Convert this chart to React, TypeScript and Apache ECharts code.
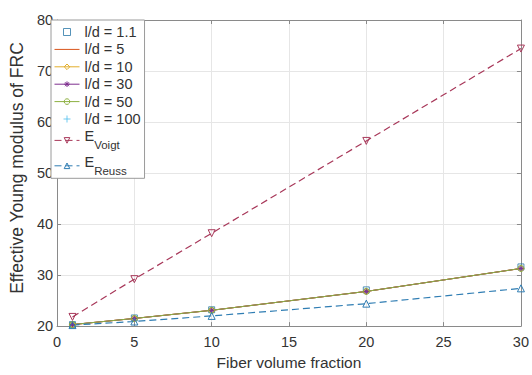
import React, { useEffect, useRef } from "react";
import * as echarts from "echarts";

// Fiber volume fraction (x)
const xValues = [1, 5, 10, 20, 30];
// Effective Young modulus of FRC for each series
const ld1_1 = [20.3, 21.6, 23.2, 27.1, 31.6];
const ld5 = [20.3, 21.5, 23.1, 26.8, 31.3];
const ld10 = [20.3, 21.5, 23.1, 26.8, 31.3];
const ld30 = [20.3, 21.5, 23.1, 26.8, 31.3];
const ld50 = [20.3, 21.5, 23.1, 26.8, 31.3];
const ld100 = [20.3, 21.5, 23.1, 26.9, 31.4];
const eVoigt = [21.8, 29.2, 38.2, 56.3, 74.4];
const eReuss = [20.2, 20.9, 22.0, 24.4, 27.4];

const xMin = 0, xMax = 30, xStep = 5;
const yMin = 20, yMax = 80, yStep = 10;

const FONT = "Liberation Sans, Arial, Helvetica, sans-serif";
const TXT = "#333333";
const AX = "#8a8a8a";

const pts = (ys: number[]) => xValues.map((x, i) => [x, ys[i]]);

export default function App() {
  const ref = useRef<HTMLDivElement>(null);
  useEffect(() => {
    const chart = echarts.init(ref.current!, null, { renderer: "svg" });
    const plusPath = "path://M5,0L5,10M0,5L10,5";
    const starPath = "path://M5,0L5,10M0,5L10,5M1.5,1.5L8.5,8.5M1.5,8.5L8.5,1.5";
    const squarePath = "path://M0,0L10,0L10,10L0,10Z";
    const lineSeries = (name: string, ys: number[], color: string, symbol: string, extra: any = {}) => ({
      name,
      type: "line",
      data: pts(ys),
      symbol,
      symbolSize: 6,
      showSymbol: symbol !== "none",
      lineStyle: { color, width: 1 },
      itemStyle: { color: "rgba(255,255,255,0)", borderColor: color, borderWidth: 1 },
      emphasis: { disabled: true },
      ...extra,
    });
    const option: any = {
      animation: false,
      backgroundColor: "#ffffff",
      textStyle: { fontFamily: FONT },
      grid: { left: 50, right: 10, top: 20, bottom: 40, containLabel: false },
      xAxis: [
        {
          type: "value",
          min: xMin,
          max: xMax,
          interval: xStep,
          name: "Fiber volume fraction",
          nameLocation: "middle",
          nameGap: 17,
          nameTextStyle: { fontSize: 15.5, color: TXT, fontFamily: FONT },
          axisLine: { show: true, lineStyle: { color: AX, width: 1 } },
          axisTick: { show: true, inside: true, length: 4, lineStyle: { color: AX } },
          axisLabel: { fontSize: 14.5, color: TXT, margin: 8, fontFamily: FONT },
          splitLine: { show: true, lineStyle: { color: "#e6e6e6", width: 1 } },
        },
        {
          type: "value",
          position: "top",
          min: xMin,
          max: xMax,
          interval: xStep,
          axisLine: { show: true, onZero: false, lineStyle: { color: AX, width: 1 } },
          axisTick: { show: true, inside: true, length: 4, lineStyle: { color: AX } },
          axisLabel: { show: false },
          splitLine: { show: false },
        },
      ],
      yAxis: [
        {
          type: "value",
          min: yMin,
          max: yMax,
          interval: yStep,
          name: "Effective Young modulus of FRC",
          nameLocation: "middle",
          nameGap: 22,
          nameTextStyle: { fontSize: 17.5, color: TXT, fontFamily: FONT, padding: [0, 0, 0, 10] },
          axisLine: { show: true, lineStyle: { color: AX, width: 1 } },
          axisTick: { show: true, inside: true, length: 4, lineStyle: { color: AX } },
          axisLabel: { fontSize: 14.5, color: TXT, margin: 4, fontFamily: FONT },
          splitLine: { show: true, lineStyle: { color: "#e6e6e6", width: 1 } },
        },
        {
          type: "value",
          position: "right",
          min: yMin,
          max: yMax,
          interval: yStep,
          axisLine: { show: true, onZero: false, lineStyle: { color: AX, width: 1 } },
          axisTick: { show: true, inside: true, length: 4, lineStyle: { color: AX } },
          axisLabel: { show: false },
          splitLine: { show: false },
        },
      ],
      legend: {
        orient: "vertical",
        left: 51,
        top: 20,
        padding: [4.5, 4, 1, 3],
        itemGap: 2.4,
        itemWidth: 25,
        itemHeight: 7,
        borderColor: "#9a9a9a",
        borderWidth: 1,
        backgroundColor: "#ffffff",
        itemStyle: { borderWidth: 1 },
        lineStyle: { width: 1 },
        textStyle: {
          fontSize: 14.5,
          color: TXT,
          fontFamily: FONT,
          lineHeight: 15,
          rich: {
            e: { fontSize: 14.5, color: TXT, fontFamily: FONT, lineHeight: 15, padding: [0, 0, 8, 0] },
            s: { fontSize: 11.5, color: TXT, fontFamily: FONT, lineHeight: 13, padding: [10, 0, 0, 0] },
          },
        },
        formatter: (name: string) => {
          if (name.startsWith("E_")) return "{e|E}{s|" + name.slice(2) + "}";
          return name;
        },
        data: [
          { name: "l/d = 1.1" },
          { name: "l/d = 5", icon: "path://M0,0L100,0L100,4L0,4Z", itemStyle: { color: "#D95319" } },
          { name: "l/d = 10" },
          { name: "l/d = 30" },
          { name: "l/d = 50" },
          { name: "l/d = 100" },
          { name: "E_Voigt" },
          { name: "E_Reuss" },
        ],
      },
      series: [
        {
          name: "l/d = 1.1",
          type: "scatter",
          data: pts(ld1_1),
          symbol: squarePath,
          symbolSize: 6,
          itemStyle: { color: "rgba(255,255,255,0)", borderColor: "#2a78a8", borderWidth: 1 },
          emphasis: { disabled: true },
        },
        lineSeries("l/d = 5", ld5, "#D95319", "none", {
          itemStyle: { color: "#D95319" },
        }),
        lineSeries("l/d = 10", ld10, "#E3AE2C", "diamond"),
        lineSeries("l/d = 30", ld30, "#7E2F8E", starPath),
        lineSeries("l/d = 50", ld50, "#8DB040", "circle"),
        {
          name: "l/d = 100",
          type: "scatter",
          data: pts(ld100),
          symbol: plusPath,
          symbolSize: 6,
          itemStyle: { color: "#4DBEEE", borderColor: "#4DBEEE", borderWidth: 1 },
          emphasis: { disabled: true },
        },
        lineSeries("E_Voigt", eVoigt, "#A8385A", "triangle", {
          symbolRotate: 180,
          symbolSize: 7,
          lineStyle: { color: "#A8385A", width: 1.2, type: [7, 4] },
        }),
        lineSeries("E_Reuss", eReuss, "#2F7DB3", "triangle", {
          symbolSize: 7,
          lineStyle: { color: "#2F7DB3", width: 1.2, type: [7, 4] },
        }),
      ],
    };
    chart.setOption(option);
    return () => chart.dispose();
  }, []);
  return (
    <div
      ref={ref}
      style={{ position: "fixed", left: 0, top: 0, width: 532, height: 375, background: "#fff" }}
    />
  );
}
